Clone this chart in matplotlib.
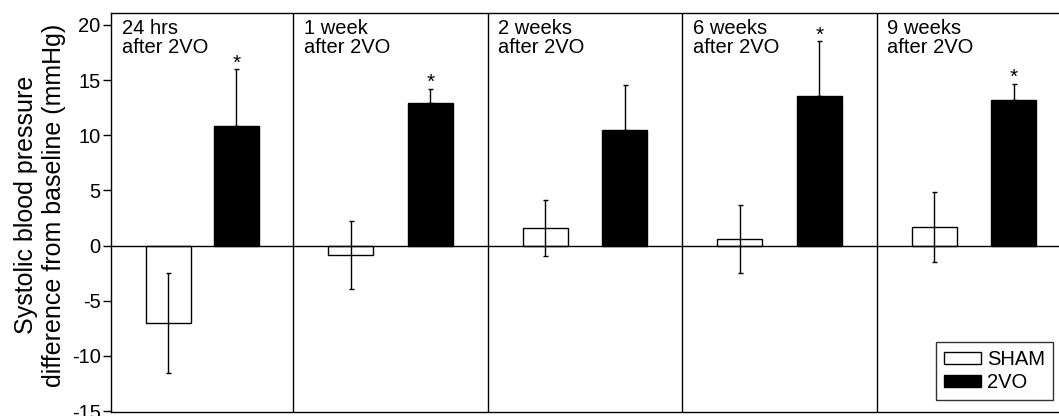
import matplotlib
matplotlib.use('Agg')
import matplotlib.pyplot as plt
from matplotlib.patches import Patch

plt.rcParams['font.family'] = ['Liberation Sans', 'DejaVu Sans']
plt.rcParams['axes.unicode_minus'] = False

panel_labels = ['24 hrs\nafter 2VO', '1 week\nafter 2VO', '2 weeks\nafter 2VO',
                '6 weeks\nafter 2VO', '9 weeks\nafter 2VO']
sham_mean = [-7.0, -0.85, 1.6, 0.6, 1.7]
sham_err = [4.55, 3.1, 2.5, 3.1, 3.2]
vo_mean = [10.8, 12.9, 10.5, 13.6, 13.2]
vo_err = [5.2, 1.3, 4.1, 4.9, 1.45]
vo_signif = [True, True, False, True, True]

# layout: dividers at 1..4, first panel is slightly narrower
sham_x = [0.357] + [i + 0.296 for i in range(1, 5)]
vo_x = [0.708] + [i + 0.706 for i in range(1, 5)]
bar_w = 0.231

fig = plt.figure(figsize=(10.59, 4.16), dpi=100)
ax = fig.add_axes([0.1048, 0.0103, 0.9065, 0.959])

ax.bar(sham_x, sham_mean, width=bar_w, color='white', edgecolor='black',
       linewidth=1.0, zorder=2)
ax.bar(vo_x, vo_mean, width=bar_w, color='black', edgecolor='black',
       linewidth=1.0, zorder=2)
ax.errorbar(sham_x, sham_mean, yerr=sham_err, fmt='none', ecolor='black',
            elinewidth=1.0, capsize=1.8, capthick=1.0, zorder=3)
ax.errorbar(vo_x, vo_mean, yerr=[[0] * 5, vo_err], fmt='none', ecolor='black',
            elinewidth=1.0, capsize=1.8, capthick=1.0, zorder=3)

for x, m, e, s in zip(vo_x, vo_mean, vo_err, vo_signif):
    if s:
        ax.text(x, m + e - 0.3, '*', ha='center', va='bottom', fontsize=15)

ax.axhline(0, color='black', linewidth=1.0, zorder=4)
for d in range(1, 5):
    ax.axvline(d, color='black', linewidth=1.0)

left_edges = [0.0627, 1, 2, 3, 4]
for x0, lab in zip(left_edges, panel_labels):
    ax.text(x0 + 0.055, 20.55, lab, ha='left', va='top', fontsize=14.5,
            linespacing=1.0)

ax.set_xlim(0.0627, 5.0)
ax.set_ylim(-15.05, 21.1)
ax.set_yticks(range(-15, 21, 5))
ax.set_xticks([])
ax.tick_params(axis='y', direction='out', length=5.5, width=1.0, labelsize=14.5, pad=2)
for sp in ax.spines.values():
    sp.set_linewidth(1.0)

ax.set_ylabel('Systolic blood pressure\ndifference from baseline (mmHg)',
              fontsize=18, linespacing=1.2)
ax.yaxis.set_label_coords(-0.047, 0.518)

handles = [Patch(facecolor='white', edgecolor='black', label='SHAM'),
           Patch(facecolor='black', edgecolor='black', label='2VO')]
leg = ax.legend(handles=handles, loc='lower right', bbox_to_anchor=(0.981, 0.029),
                fontsize=14.5, frameon=True, fancybox=False, edgecolor='black',
                handlelength=1.8, handleheight=0.6, handletextpad=0.3,
                labelspacing=0.2, borderpad=0.4, borderaxespad=0)
leg.get_frame().set_linewidth(1.0)

fig.savefig('out.png', dpi=100)
